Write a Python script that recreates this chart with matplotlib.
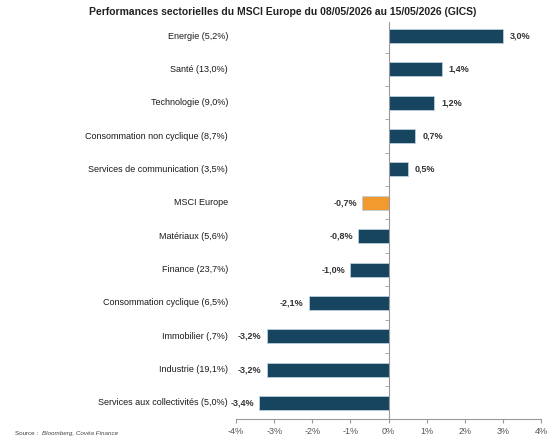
import numpy as np
import matplotlib.pyplot as plt
import matplotlib.transforms as mtransforms
from matplotlib.ticker import FixedLocator

plt.rcParams['font.family'] = ['Liberation Sans Narrow', 'Liberation Sans', 'DejaVu Sans']

secteurs = ['Energie (5,2%)', 'Santé (13,0%)', 'Technologie (9,0%)',
            'Consommation non cyclique (8,7%)', 'Services de communication (3,5%)',
            'MSCI Europe', 'Matériaux (5,6%)', 'Finance (23,7%)',
            'Consommation cyclique (6,5%)', 'Immobilier (,7%)', 'Industrie (19,1%)',
            'Services aux collectivités (5,0%)']
perf = [3.0, 1.4, 1.2, 0.7, 0.5, -0.7, -0.8, -1.0, -2.1, -3.2, -3.2, -3.4]
xticks = [-4, -3, -2, -1, 0, 1, 2, 3, 4]

bleu = '#17455f'
orange = '#f39a2e'
couleurs = [orange if s == 'MSCI Europe' else bleu for s in secteurs]

fig = plt.figure(figsize=(5.54, 4.41), dpi=100)
ax = fig.add_axes([0.426, 0.05, 0.551, 0.90])

y = np.arange(len(secteurs))
ax.barh(y, perf, height=0.42, color=couleurs, edgecolor='#b9cfdc', linewidth=0.6, zorder=2)

for yi, v in zip(y, perf):
    txt = ('%.1f%%' % v).replace('.', ',')
    if v >= 0:
        ax.text(v + 0.18, yi, txt, ha='left', va='center', fontsize=6.5, fontweight='bold', color='#333333')
    else:
        ax.text(v - 0.13, yi, txt, ha='right', va='center', fontsize=6.5, fontweight='bold', color='#333333')

# libellés des secteurs à gauche de la zone de tracé
trans = mtransforms.blended_transform_factory(ax.transAxes, ax.transData)
for yi, s in zip(y, secteurs):
    ax.text(-0.026, yi, s, transform=trans, ha='right', va='center', fontsize=6.5, color='#1a1a1a')

ax.set_xlim(-4, 4)
ax.set_ylim(len(secteurs) - 0.52, -0.42)
ax.set_xticks(xticks)
ax.set_xticklabels(['%d%%' % t for t in xticks], fontsize=6.5, color='#555555')
ax.set_yticks(y)
ax.set_yticklabels([])
ax.tick_params(axis='y', which='major', length=0)
ax.yaxis.set_minor_locator(FixedLocator(y[:-1] + 0.5))
ax.tick_params(axis='y', which='minor', length=3, color='#999999', direction='out')
ax.tick_params(axis='x', length=3, color='#999999', direction='out', pad=3)

for s in ['top', 'right']:
    ax.spines[s].set_visible(False)
ax.spines['left'].set_position(('data', 0))
ax.spines['left'].set_color('#999999')
ax.spines['bottom'].set_color('#999999')
ax.spines['left'].set_linewidth(0.8)
ax.spines['bottom'].set_linewidth(0.8)

fig.text(0.511, 0.972, 'Performances sectorielles du MSCI Europe du 08/05/2026 au 15/05/2026 (GICS)',
         ha='center', va='center', fontsize=7.5, fontweight='bold', color='#222222')
fig.text(0.027, 0.012, 'Source : ', fontsize=4.5, color='#444444', va='bottom')
fig.text(0.075, 0.012, 'Bloomberg, Covéa Finance', fontsize=4.5, color='#444444', style='italic', va='bottom')

fig.savefig('out.png', dpi=100)
